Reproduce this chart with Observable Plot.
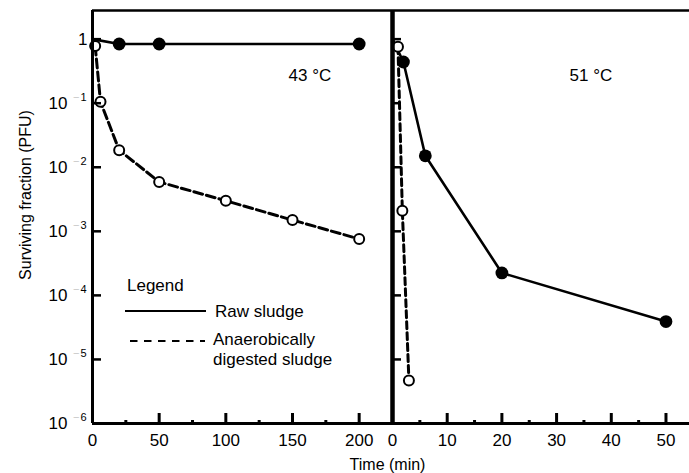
<!DOCTYPE html>
<html>
<head>
<meta charset="utf-8">
<script src="https://cdn.jsdelivr.net/npm/d3@7"></script>
<script src="https://cdn.jsdelivr.net/npm/@observablehq/plot@0.6"></script>
<style>
  html, body { margin: 0; padding: 0; background: #fff; }
  #chart { position: relative; width: 689px; height: 473px; }
  #chart svg { position: absolute; left: 0; top: 0; }
</style>
</head>
<body>
<div id="chart"></div>
<script>
// Surviving fraction (PFU) of virus in sludge held at 43 °C and 51 °C

// 43 °C panel (time in min)
const time43Raw = [0, 20, 50, 200];
const surv43Raw = [1, 0.84, 0.84, 0.84];
const time43Anaer = [2, 6, 20, 50, 100, 150, 200];
const surv43Anaer = [0.78, 0.105, 0.0185, 0.0059, 0.003, 0.0015, 0.00076];

// 51 °C panel (time in min)
const time51Raw = [0, 2, 6, 20, 50];
const surv51Raw = [1, 0.44, 0.0151, 0.000224, 0.000039];
const time51Anaer = [1, 1.8, 3];
const surv51Anaer = [0.76, 0.0021, 0.0000047];

// axes
const yDecades = [1, 1e-1, 1e-2, 1e-3, 1e-4, 1e-5, 1e-6];
const yExponents = ["0", "1", "2", "3", "4", "5", "6"];
const xTicks43 = [0, 50, 100, 150, 200];
const xMinor43 = [25, 75, 125, 175];
const xTicks51 = [0, 10, 20, 30, 40, 50];
const xMinor51 = [5, 15, 25, 35, 45];
const panelLabels = ["43 °C", "51 °C"];
const yTitle = "Surviving fraction (PFU)";
const xTitle = "Time (min)";
const legendTitle = "Legend";
const legendRaw = ["Raw sludge"];
const legendAnaer = ["Anaerobically", "digested sludge"];

const rows = (ts, ss) => ts.map((t, i) => ({t, s: ss[i]}));
const raw43 = rows(time43Raw, surv43Raw);
const anaer43 = rows(time43Anaer, surv43Anaer);
const raw51 = rows(time51Raw, surv51Raw);
const anaer51 = rows(time51Anaer, surv51Anaer);

const W = 689, H = 473, MT = 10, MB = 50;
const split = 392;
const yTop = 2.8;
const frameH = H - MT - MB;
const font = "'Liberation Sans', Arial, Helvetica, sans-serif";

function panel({left, right, xMax, raw, anaer, ticks, minor, label, labelDx, axisWidth, anaerDash}) {
  const frameW = W - left - right;
  const marks = [
    // series
    Plot.line(raw, {x: "t", y: "s", stroke: "black", strokeWidth: 2.6}),
    Plot.line(anaer, {x: "t", y: "s", stroke: "black", strokeWidth: 3, strokeDasharray: anaerDash}),
    Plot.dot(anaer, {x: "t", y: "s", r: 5, fill: "white", stroke: "black", strokeWidth: 2}),
    Plot.dot(raw.filter(d => d.t > 0), {x: "t", y: "s", r: 6.4, fill: "black"}),
    // inward ticks
    Plot.tickY(yDecades.slice(0, 6), {y: d => d, stroke: "black", strokeWidth: 2.5, insetRight: frameW - 9}),
    Plot.tickX(ticks.filter(d => d > 0), {x: d => d, stroke: "black", strokeWidth: 3, insetTop: frameH - 10}),
    Plot.tickX(minor, {x: d => d, stroke: "black", strokeWidth: 3, insetTop: frameH - 3}),
    // frame lines
    Plot.ruleX([0], {stroke: "black", strokeWidth: axisWidth}),
    Plot.ruleY([1e-6], {stroke: "black", strokeWidth: 3}),
    Plot.ruleY([yTop], {stroke: "black", strokeWidth: 2.5}),
    // x tick labels
    Plot.text(ticks, {x: d => d, text: d => String(d), frameAnchor: "bottom", lineAnchor: "bottom",
      dy: 22, fontSize: 17, textAnchor: "middle", fill: "black"}),
    // panel label
    Plot.text([label], {text: d => d, frameAnchor: "top-left", lineAnchor: "bottom", textAnchor: "start",
      dx: labelDx, dy: 70, fontSize: 17, fill: "black"})
  ];
  return Plot.plot({
    width: W, height: H,
    marginLeft: left, marginRight: right, marginTop: MT, marginBottom: MB,
    style: {background: "transparent", fontFamily: font, overflow: "visible"},
    x: {domain: [0, xMax], axis: null},
    y: {type: "log", domain: [1e-6, yTop], axis: null},
    marks
  });
}

const left = panel({left: 92, right: W - split, xMax: 225, raw: raw43, anaer: anaer43,
  ticks: xTicks43, minor: xMinor43, label: panelLabels[0], labelDx: 196, axisWidth: 3, anaerDash: "9,4"});
const right = panel({left: split, right: 0, xMax: 54.3, raw: raw51, anaer: anaer51,
  ticks: xTicks51, minor: xMinor51, label: panelLabels[1], labelDx: 177, axisWidth: 4.5, anaerDash: "7,4"});

// y-axis labels and titles share the left panel's scales
const labels = Plot.plot({
  width: W, height: H,
  marginLeft: 92, marginRight: W - split, marginTop: MT, marginBottom: MB,
  style: {background: "transparent", fontFamily: font, overflow: "visible"},
  x: {domain: [0, 225], axis: null},
  y: {type: "log", domain: [1e-6, yTop], axis: null},
  marks: [
    Plot.text([yDecades[0]], {y: d => d, text: () => "1", frameAnchor: "left", textAnchor: "end",
      dx: -5, fontSize: 17, fill: "black"}),
    Plot.text(yDecades.slice(1), {y: d => d, text: () => "10", frameAnchor: "left", textAnchor: "end",
      dx: -25, fontSize: 17, fill: "black"}),
    Plot.text(yDecades.slice(1), {y: d => d, text: () => "\u2212", frameAnchor: "left", textAnchor: "end",
      dx: -13, dy: -6, fontSize: 11, fill: "#c8c8c8"}),
    Plot.text(yDecades.slice(1), {y: d => d, text: (d, i) => yExponents[i + 1], frameAnchor: "left",
      textAnchor: "end", dx: -6, dy: -6, fontSize: 11, fill: "black"}),
    Plot.text([yTitle], {text: d => d, frameAnchor: "left", rotate: -90, dx: -67, dy: -22,
      fontSize: 16, fill: "black", textAnchor: "middle"}),
    Plot.text([xTitle], {text: d => d, frameAnchor: "bottom-right", lineAnchor: "bottom",
      dx: -5, dy: 46, fontSize: 16, fill: "black", textAnchor: "middle"})
  ]
});

const chart = document.getElementById("chart");
chart.append(left, right, labels);

// line-style legend inside the 43 °C panel
const g = d3.select(left).append("g")
  .attr("font-family", font).attr("font-size", 17).attr("fill", "black")
  .attr("text-anchor", "start");
g.append("text").attr("x", 127).attr("y", 291).text(legendTitle);
g.append("line").attr("x1", 125).attr("x2", 206).attr("y1", 311).attr("y2", 311)
  .attr("stroke", "black").attr("stroke-width", 2);
g.append("text").attr("x", 215).attr("y", 317).text(legendRaw[0]);
g.append("line").attr("x1", 130).attr("x2", 205).attr("y1", 341).attr("y2", 341)
  .attr("stroke", "black").attr("stroke-width", 2).attr("stroke-dasharray", "7.5,6.5");
legendAnaer.forEach((t, i) => {
  g.append("text").attr("x", 213).attr("y", 345 + i * 20).text(t);
});
</script>
</body>
</html>
